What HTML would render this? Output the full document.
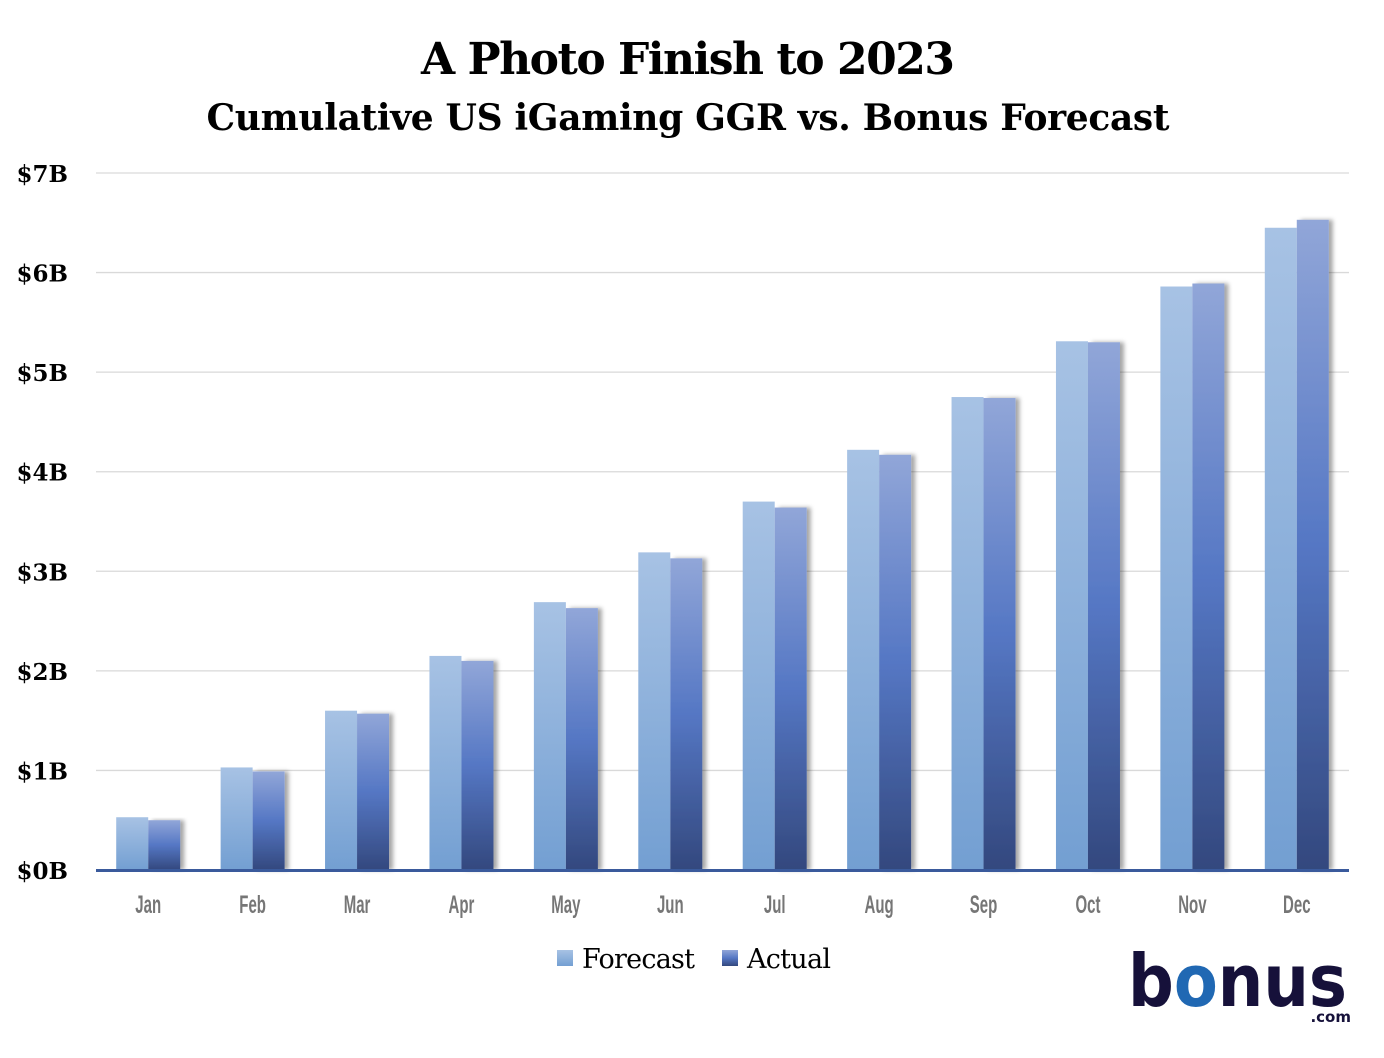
<!DOCTYPE html>
<html><head><meta charset="utf-8"><style>
body{margin:0;background:#fff;width:1384px;height:1058px;overflow:hidden}
svg{display:block}
</style></head><body>
<svg width="1384" height="1058" viewBox="0 0 1384 1058" xmlns="http://www.w3.org/2000/svg">
<defs>
<linearGradient id="gF" x1="0" y1="0" x2="0" y2="1"><stop offset="0" stop-color="#a7c2e4"/><stop offset="1" stop-color="#739fd2"/></linearGradient>
<linearGradient id="gA" x1="0" y1="0" x2="0" y2="1"><stop offset="0" stop-color="#91a6d8"/><stop offset="0.5" stop-color="#5577c4"/><stop offset="1" stop-color="#33487e"/></linearGradient>
<filter id="sh" x="-20%" y="-5%" width="160%" height="110%"><feDropShadow dx="4" dy="0" stdDeviation="2" flood-color="#000" flood-opacity="0.35"/></filter>
</defs>
<text x="688" y="74" text-anchor="middle" font-family="'DejaVu Serif','Liberation Serif',serif" font-weight="bold" font-size="44" textLength="534" fill="#000">A Photo Finish to 2023</text>
<text x="688" y="130" text-anchor="middle" font-family="'DejaVu Serif','Liberation Serif',serif" font-weight="bold" font-size="36" textLength="963" fill="#000">Cumulative US iGaming GGR vs. Bonus Forecast</text>
<g id="grid"></g><g id="bars"></g><g id="xl"></g>
<rect x="96" y="869" width="1253" height="3" fill="#3a5a9c"/>
<g>
<rect x="557" y="950" width="16" height="16" fill="url(#gF)"/>
<text x="582" y="968" font-family="'DejaVu Serif','Liberation Serif',serif" font-size="27" textLength="113" fill="#000">Forecast</text>
<rect x="722" y="950" width="16" height="16" fill="url(#gA)"/>
<text x="747" y="968" font-family="'DejaVu Serif','Liberation Serif',serif" font-size="27" textLength="84" fill="#000">Actual</text>
</g>
<g>
<text x="1128" y="1006" font-family="'DejaVu Sans','Liberation Sans',sans-serif" font-weight="bold" font-size="72" textLength="219" lengthAdjust="spacingAndGlyphs" fill="#16113a">b<tspan fill="#2068b3">o</tspan>nus</text>
<text x="1351" y="1022" text-anchor="end" font-family="'DejaVu Sans','Liberation Sans',sans-serif" font-weight="bold" font-size="15" fill="#16113a">.com</text>
</g>
</svg>
<script>
const months=["Jan","Feb","Mar","Apr","May","Jun","Jul","Aug","Sep","Oct","Nov","Dec"];
const forecast=[0.53,1.03,1.60,2.15,2.69,3.19,3.70,4.22,4.75,5.31,5.86,6.45];
const actual=[0.50,0.99,1.57,2.10,2.63,3.13,3.64,4.17,4.74,5.30,5.89,6.53];
const yTicks=[0,1,2,3,4,5,6,7];
const NS="http://www.w3.org/2000/svg";
const x0=96,x1=1349,y0=870,yTop=173,maxV=7;
const y=v=>y0-(y0-yTop)*v/maxV;
const bw=(x1-x0)/months.length;
const xc=i=>x0+bw*(i+0.5);
function mk(t,a,p){const e=document.createElementNS(NS,t);for(const k in a)e.setAttribute(k,a[k]);p.appendChild(e);return e;}
const grid=document.getElementById('grid');
yTicks.forEach(v=>{
 if(v>0){const l=mk('line',{x1:x0,x2:x1,y1:y(v),y2:y(v),stroke:'#d9d9d9','stroke-width':1.3},grid);
 
 }
 const t=mk('text',{x:68,y:y(v)+9,'text-anchor':'end','font-family':"'DejaVu Serif','Liberation Serif',serif",'font-weight':'bold','font-size':23,fill:'#000'},grid);
 t.textContent='$'+v+'B';
 
 
});
const bars=document.getElementById('bars'),xl=document.getElementById('xl');
months.forEach((m,i)=>{
 const c=xc(i);
 const f=mk('rect',{x:c-32,y:y(forecast[i]),width:32,height:y0-y(forecast[i]),fill:'url(#gF)'},bars);
 
 
 const a=mk('rect',{x:c,y:y(actual[i]),width:32,height:y0-y(actual[i]),fill:'url(#gA)',filter:'url(#sh)'},bars);
 
 
 const t=mk('text',{x:0,y:0,'text-anchor':'middle','font-family':"'Liberation Sans',sans-serif",'font-weight':'bold','font-size':25,fill:'#767676',transform:`translate(${c},913) scale(0.6,1)`},xl);
 t.textContent=m;
 
 
});
</script>
</body></html>
